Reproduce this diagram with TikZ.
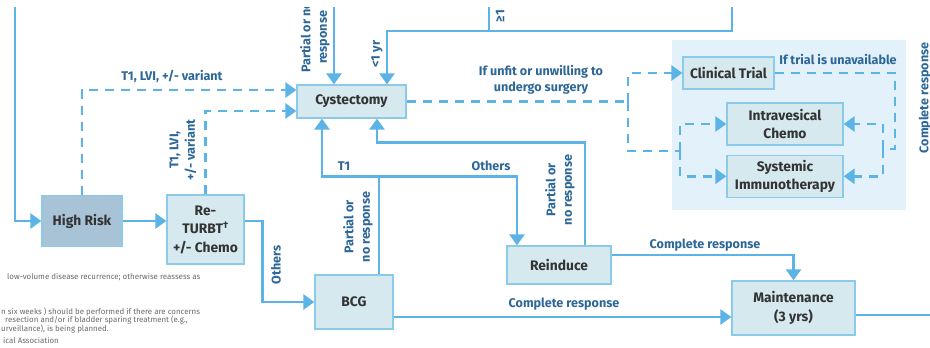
\documentclass[tikz,border=0pt]{standalone}
\usepackage{fontspec}
\setmainfont{Fira Sans}
\usetikzlibrary{positioning,calc,arrows.meta}
\definecolor{linkblue}{HTML}{5BB4E5}
\definecolor{boxline}{HTML}{8CCAEA}
\definecolor{boxfill}{HTML}{D5E9EE}
\definecolor{riskfill}{HTML}{A9C3D6}
\definecolor{panelfill}{HTML}{E3F1FA}
\definecolor{lbltext}{HTML}{2D6797}
\definecolor{boxtext}{HTML}{333333}
\definecolor{notetext}{HTML}{6A6A6A}
\tikzset{
	box/.style={draw=boxline,fill=boxfill,line width=1.3pt,text=boxtext,font=\bfseries\fontsize{13.8}{18.5}\selectfont,align=center,inner sep=0pt},
	link/.style={draw=linkblue,line width=2.8pt},
	dlink/.style={link,dash pattern=on 9pt off 7pt},
	tip/.style={-{Triangle[length=11pt,width=15pt]}},
	lbl/.style={text=lbltext,font=\bfseries\fontsize{12.6}{16.5}\selectfont,align=center,inner sep=0pt},
	note/.style={text=notetext,font=\fontsize{7.9}{9}\selectfont,anchor=west,inner sep=0pt},
}
\begin{document}
\begin{tikzpicture}[x=1pt,y=-1pt]
		\useasboundingbox (0,0) rectangle (930,348);
		\begin{scope}
			\clip (0,7) rectangle (930,348);
			\fill[panelfill] (672,40) rectangle (906,210);
			%
			\node[box,fill=riskfill,minimum width=80pt,minimum height=51pt] at (82,221) (hr) {High Risk};
			\node[box,minimum width=77pt,minimum height=69pt] at (205.5,229.5) (rt) {Re-\\TURBT\textsuperscript{†}\\+/- Chemo};
			\node[box,minimum width=78pt,minimum height=54pt] at (354,302) (bcg) {BCG};
			\node[box,minimum width=104pt,minimum height=38pt] at (559,265) (rei) {Reinduce};
			\node[box,minimum width=123pt,minimum height=54pt] at (793.5,308) (mnt) {Maintenance\\(3 yrs)};
			\node[box,minimum width=109pt,minimum height=33pt] at (351.5,101.5) (cys) {Cystectomy};
			\node[box,minimum width=91pt,minimum height=32pt] at (728.5,73) (ct) {Clinical Trial};
			\node[box,minimum width=116pt,minimum height=42pt] at (785,124) (ivc) {Intravesical\\Chemo};
			\node[box,minimum width=116pt,minimum height=42pt,below=9pt of ivc] (sys) {Systemic\\Immunotherapy};
			%
			\coordinate (top1) at (15,7);
			\coordinate (cw1) at ($(cys.west)+(0,-11.5)$);
			\coordinate (cw2) at ($(cys.west)+(0,9.5)$);
			\coordinate (bt) at ($(bcg.north)+(25,0)$);
			\coordinate (j1) at ($(bt)+(0,-98)$);
			\coordinate (cs1) at ($(cys.south)+(-29.5,0)$);
			\coordinate (cs2) at ($(cys.south)+(25.5,0)$);
			\coordinate (rn1) at ($(rei.north)+(-42,0)$);
			\coordinate (rn2) at ($(rei.north)+(26,0)$);
			\coordinate (re) at ($(rei.east)+(0,-10)$);
			\coordinate (be) at ($(bcg.east)+(0,15)$);
			\coordinate (out) at (930,315);
			\coordinate (t1) at (334,7);
			\coordinate (t2) at (489,7);
			\coordinate (t3) at (732,7);
			\coordinate (k1) at (387,31);
			\coordinate (d1) at (628,0);
			\coordinate (d2) at (680,151);
			\coordinate (d3) at (895,149);
			\coordinate (d4) at (883,149);
			%
			\draw[link,tip] (top1) |- (hr.west);
			\draw[link,tip] (hr.east) -- (hr.east -| rt.west);
			\draw[dlink,tip] (hr.north) |- (cw1);
			\draw[dlink,tip] (rt.north) |- (cw2);
			\draw[link,tip] (rt.east |- hr.east) -- ++(18,0) |- (bcg.west);
			\draw[link] (bt) -- (j1);
			\draw[link,tip] (j1) -| (cs1);
			\draw[link,tip] (j1) -| (rn1);
			\draw[link,tip] (rn2) |- ($(cs2)+(0,24)$) -- (cs2);
			\draw[link,tip] (re) -| (mnt.north);
			\draw[link,tip] (be) -- (be -| mnt.west);
			\draw[link] (mnt.east |- out) -- (out);
			\draw[link,tip] (t1) -- (t1 |- cys.north);
			\draw[link] (t3) |- (t2 |- k1);
			\draw[link,tip] (t2) |- (k1) -- (k1 |- cys.north);
			\draw[dlink] (cys.east) -- (cys.east -| d1);
			\draw[dlink,tip] (cys.east -| d1) |- (ct.west);
			\draw[dlink] (cys.east -| d1) |- (d2);
			\draw[dlink,tip] (d2) |- (ivc.west);
			\draw[dlink,tip] (d2) |- (sys.west);
			\draw[dlink] (ct.east) -| (d3) -- (d4);
			\draw[dlink,tip] (d4) |- (ivc.east);
			\draw[dlink,tip] (d4) |- (sys.east);
			%
			\node[lbl] at (172,76) (l1) {T1, LVI, +/- variant};
			\node[lbl,rotate=90] at (183,150) (l2) {T1, LVI,\\+/- variant};
			\node[lbl,rotate=90] at (276,265) (l3) {Others};
			\node[lbl,rotate=90] at (358,227) (l4) {Partial or\\no response};
			\node[lbl] at (344,166) (l5) {T1};
			\node[lbl] at (491,166) (l6) {Others};
			\node[lbl,rotate=90] at (560,190) (l7) {Partial or\\no response};
			\node[lbl] at (705,245) (l8) {Complete response};
			\node[lbl] at (564,304) (l9) {Complete response};
			\node[lbl] at (541,80) (l10) {If unfit or unwilling to\\undergo surgery};
			\node[lbl] at (838,59) (l11) {If trial is unavailable};
			\node[lbl,rotate=90] at (925,98) (l12) {Complete response};
			\node[lbl,rotate=90,anchor=west] at (315,73) (l13) {Partial or no\\response};
			\node[lbl,rotate=90] at (377,54) (l14) {<1 yr};
			\node[lbl,rotate=90] at (500,16) (l15) {≥1};
			%
			\node[note] at (7,277) (n1) {low-volume disease recurrence; otherwise reassess as};
			\node[note] at (1,312) (n2) {n six weeks ) should be performed if there are concerns};
			\node[note] at (5,320) (n3) {resection and/or if bladder sparing treatment (e.g.,};
			\node[note] at (1,329) (n4) {urveillance), is being planned.};
			\node[note] at (3,340) (n5) {ical Association};
		\end{scope}
	\end{tikzpicture}
\end{document}
